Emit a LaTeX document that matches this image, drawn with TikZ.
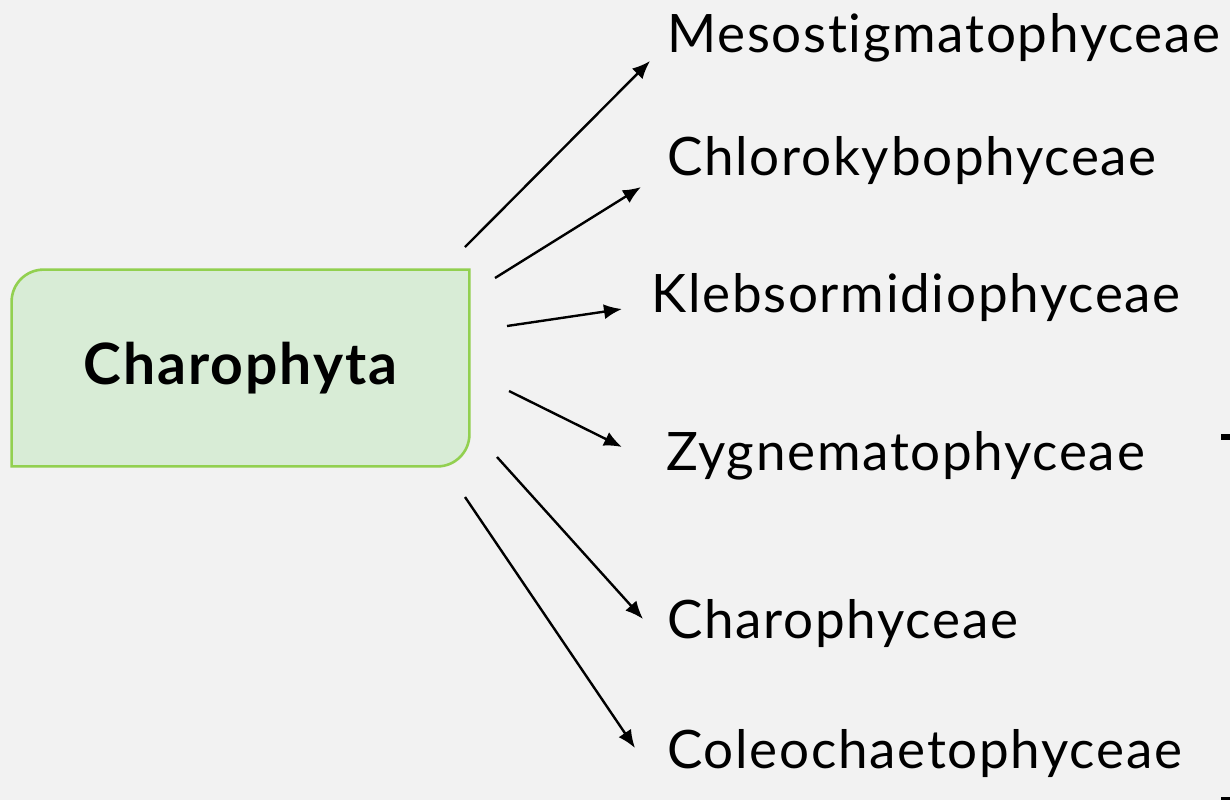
\documentclass[tikz,border=0pt]{standalone}
\usepackage{fontspec}
\setmainfont{Lato}[Ligatures=NoCommon]
\newfontfamily\classfont{Lato}[Ligatures=NoCommon,LetterSpace=3.2]
\newfontfamily\rootfont{Lato}[Ligatures=NoCommon,LetterSpace=3.5]
\usepackage{xcolor}
\usetikzlibrary{arrows.meta,backgrounds}

\definecolor{pagegray}{RGB}{242,242,242}
\definecolor{boxfill}{RGB}{216,236,214}
\definecolor{boxedge}{RGB}{146,208,80}

\begin{document}
\begin{tikzpicture}[
    x=0.5pt, y=-0.5pt,
    rootbox/.style={
        minimum width=228.5pt,
        minimum height=98pt,
        inner sep=0pt,
        font=\rootfont\fontsize{28.5}{32}\selectfont\bfseries
    },
    boxline/.style={
        draw=boxedge,
        fill=boxfill,
        line width=1.3pt
    },
    classname/.style={
        anchor=base west,
        inner sep=0pt,
        font=\classfont\fontsize{26.5}{30}\selectfont
    },
    arrow/.style={
        -{Latex[length=9pt,width=7.5pt]},
        line width=1.2pt,
        black
    }
]
\useasboundingbox (0,0) rectangle (1230,800);
% Root box
\node[rootbox] (charo) at (240.5,368) {Charophyta};
% Classes
\node[classname] (meso) at (667,52) {Mesostigmatophyceae};
\node[classname] (chloro) at (667,175) {Chlorokybophyceae};
\node[classname] (klebs) at (651,312) {Klebsormidiophyceae};
\node[classname] (zygne) at (666,470) {Zygnematophyceae};
\node[classname] (charac) at (667,638) {Charophyceae};
\node[classname] (coleo) at (667,768) {Coleochaetophyceae};
% Arrow ends
\coordinate (s1) at (465,247);  \coordinate (e1) at (650,61);
\coordinate (s2) at (495,278);  \coordinate (e2) at (641,187);
\coordinate (s3) at (507,326);  \coordinate (e3) at (622,309);
\coordinate (s4) at (509,391);  \coordinate (e4) at (622,447);
\coordinate (s5) at (497,457);  \coordinate (e5) at (643,619);
\coordinate (s6) at (465,497);  \coordinate (e6) at (635,748);
\draw[arrow] (s1) -- (e1);
\draw[arrow] (s2) -- (e2);
\draw[arrow] (s3) -- (e3);
\draw[arrow] (s4) -- (e4);
\draw[arrow] (s5) -- (e5);
\draw[arrow] (s6) -- (e6);
% Cut-off marks at the right edge
\fill[black] (1221,434) rectangle (1230,440);
\fill[black] (1221,797) rectangle (1230,800);
\begin{pgfonlayer}{background}
\fill[pagegray] (0,0) rectangle (1230,800);
\draw[boxline] (charo.south west)
    -- ([yshift=-16pt]charo.north west) arc[start angle=180,end angle=90,radius=16pt]
    -- (charo.north east)
    -- ([yshift=16pt]charo.south east) arc[start angle=0,end angle=-90,radius=16pt]
    -- cycle;
\end{pgfonlayer}
\end{tikzpicture}
\end{document}
